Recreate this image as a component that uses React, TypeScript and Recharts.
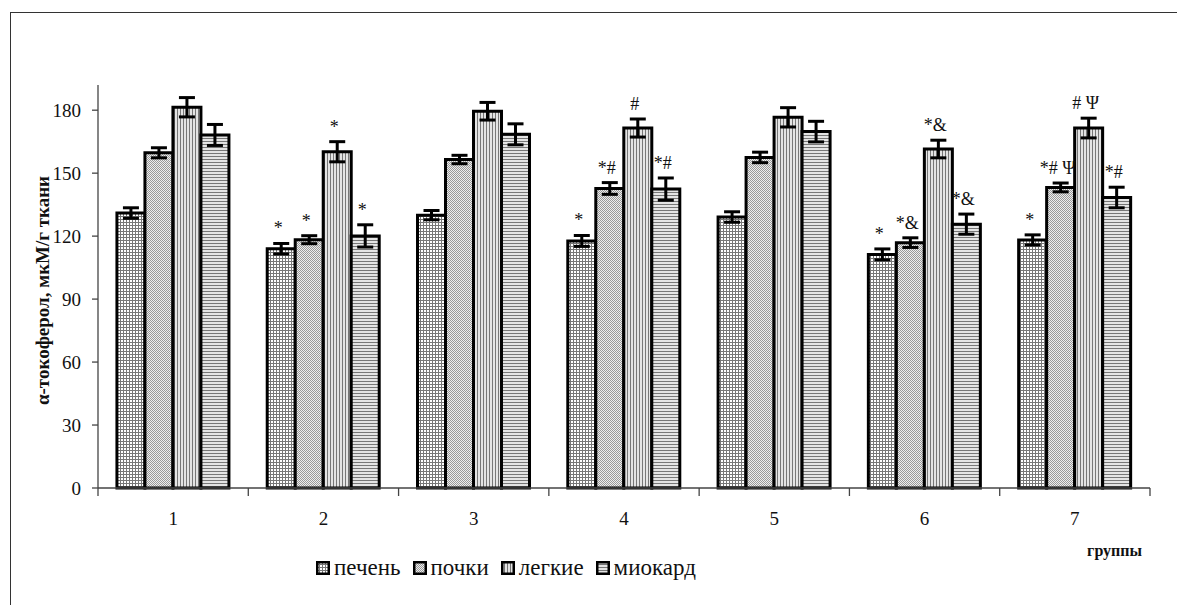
import React from "react";
import { BarChart, Bar, XAxis, YAxis, ErrorBar, LabelList, Legend, Label } from "recharts";

const groups = ["1", "2", "3", "4", "5", "6", "7"];

// α-tocopherol, mean ± error per tissue
const liver = [131, 114, 130, 117.7, 129.1, 111.3, 118.2];
const liverErr = [2.5, 2.5, 2.2, 2.6, 2.5, 2.6, 2.4];
const kidney = [159.7, 118.3, 156.5, 142.7, 157.5, 116.9, 143.2];
const kidneyErr = [2.4, 1.9, 2.0, 2.8, 2.5, 2.3, 2.1];
const lung = [181.4, 160.2, 179.5, 171.5, 176.6, 161.5, 171.5];
const lungErr = [4.6, 4.8, 4.2, 4.3, 4.6, 4.2, 4.7];
const myo = [168.2, 120.1, 168.5, 142.4, 169.8, 125.7, 138.4];
const myoErr = [5.0, 5.3, 5.0, 5.3, 4.9, 4.8, 4.9];

// significance marks above the bars
const liverMarks = ["", "*", "", "*", "", "*", "*"];
const kidneyMarks = ["", "*", "", "*#", "", "*&", "*# Ψ"];
const lungMarks = ["", "*", "", "#", "", "*&", "# Ψ"];
const myoMarks = ["", "*", "", "*#", "", "*&", "*#"];

const yTicks = [0, 30, 60, 90, 120, 150, 180];

const FONT = "Liberation Serif, Tinos, DejaVu Serif, Noto Serif, serif";

const data = groups.map((g, i) => ({
  group: g,
  liver: liver[i],
  liverErr: liverErr[i],
  liverMark: liverMarks[i],
  kidney: kidney[i],
  kidneyErr: kidneyErr[i],
  kidneyMark: kidneyMarks[i],
  lung: lung[i],
  lungErr: lungErr[i],
  lungMark: lungMarks[i],
  myo: myo[i],
  myoErr: myoErr[i],
  myoMark: myoMarks[i],
}));

const series = [
  { key: "liver", name: "печень", fill: "url(#pLiver)", values: liver, errs: liverErr },
  { key: "kidney", name: "почки", fill: "url(#pKidney)", values: kidney, errs: kidneyErr },
  { key: "lung", name: "легкие", fill: "url(#pLung)", values: lung, errs: lungErr },
  { key: "myo", name: "миокард", fill: "url(#pMyo)", values: myo, errs: myoErr },
];

function markLabel(values: number[], errs: number[]) {
  return (props: any) => {
    const { x, y, width, height, value, index } = props;
    if (!value) return null;
    const px = Number(height) / values[index];
    const top = Number(y) - errs[index] * px;
    return (
      <text
        x={Number(x) + Number(width) / 2 - 3}
        y={top - 9}
        textAnchor="middle"
        style={{ fontFamily: FONT }}
        fontSize={18}
        fill="#111"
      >
        {value}
      </text>
    );
  };
}

function GroupTick(props: any) {
  const { x, y, payload, index } = props;
  const w = Number(props.width) > 500 ? Number(props.width) : 1052;
  const bw = w / groups.length;
  return (
    <g>
      {index === 0 && (
        <line x1={x - bw / 2} x2={x - bw / 2} y1={y} y2={y + 8} stroke="#444" strokeWidth={1.3} />
      )}
      <line x1={x + bw / 2} x2={x + bw / 2} y1={y} y2={y + 8} stroke="#444" strokeWidth={1.3} />
      <text x={x} y={y + 37} textAnchor="middle" style={{ fontFamily: FONT }} fontSize={19} fill="#111">
        {payload.value}
      </text>
    </g>
  );
}

function renderLegend() {
  return (
    <div
      style={{
        height: 40,
        display: "flex",
        alignItems: "center",
        gap: 12,
        fontFamily: FONT,
        fontSize: 23,
        color: "#111",
      }}
    >
      {series.map((s) => (
        <div key={s.key} style={{ display: "flex", alignItems: "center", gap: 4 }}>
          <svg width={14} height={14}>
            <rect x={1.25} y={1.25} width={11.5} height={11.5} fill={s.fill} stroke="#000" strokeWidth={2.5} />
          </svg>
          <span>{s.name}</span>
        </div>
      ))}
    </div>
  );
}

export default function App() {
  return (
    <div style={{ position: "absolute", left: 0, top: 0, width: 1177, height: 605, overflow: "hidden", background: "#fff" }}>
      <svg width={0} height={0} style={{ position: "absolute" }}>
        <defs>
          <pattern id="pLiver" width={3} height={3} patternUnits="userSpaceOnUse">
            <rect width={3} height={3} fill="#fff" />
            <rect width={3} height={1} fill="#777" />
            <rect width={1} height={3} fill="#777" />
          </pattern>
          <pattern id="pKidney" width={2} height={2} patternUnits="userSpaceOnUse">
            <rect width={2} height={2} fill="#eee" />
            <rect width={1} height={1} fill="#999" />
            <rect x={1} y={1} width={1} height={1} fill="#999" />
          </pattern>
          <pattern id="pLung" width={3} height={3} patternUnits="userSpaceOnUse">
            <rect width={3} height={3} fill="#e4e4e4" />
            <rect width={1} height={3} fill="#777" />
          </pattern>
          <pattern id="pMyo" width={3} height={3} patternUnits="userSpaceOnUse">
            <rect width={3} height={3} fill="#e4e4e4" />
            <rect width={3} height={1} fill="#777" />
          </pattern>
        </defs>
      </svg>
      <div
        style={{
          position: "absolute",
          left: 10,
          top: 12,
          width: 1300,
          height: 800,
          borderLeft: "1.5px solid #333",
          borderTop: "1.5px solid #333",
        }}
      />
      <BarChart
        width={1177}
        height={605}
        data={data}
        margin={{ top: 85, right: 27, bottom: 17, left: 0 }}
        barCategoryGap="12.6%"
        barGap={0}
      >
        <XAxis
          dataKey="group"
          height={60}
          interval={0}
          tickSize={0}
          tickMargin={0}
          tickLine={false}
          axisLine={{ stroke: "#444", strokeWidth: 1.3 }}
          tick={<GroupTick />}
        >
          <Label
            content={(p: any) => {
              const vb = p.viewBox || { x: 98, y: 488, width: 1052 };
              return (
                <text
                  x={vb.x + vb.width - 8}
                  y={vb.y + 68}
                  textAnchor="end"
                  style={{ fontFamily: FONT }}
                  fontWeight="bold"
                  fontSize={16}
                  fill="#111"
                >
                  группы
                </text>
              );
            }}
          />
        </XAxis>
        <YAxis
          width={98}
          domain={[0, 192]}
          ticks={yTicks}
          interval={0}
          tickSize={6}
          tickMargin={11}
          axisLine={{ stroke: "#444", strokeWidth: 1.3 }}
          tickLine={{ stroke: "#444", strokeWidth: 1.3 }}
          tick={{ fontSize: 19, fill: "#111", style: { fontFamily: FONT } }}
        >
          <Label
            content={(p: any) => {
              const vb = p.viewBox || { x: 0, y: 85, width: 98, height: 403 };
              const cy = vb.y + vb.height / 2 + 4;
              return (
                <text
                  x={42}
                  y={cy}
                  transform={`rotate(-90, 42, ${cy})`}
                  textAnchor="middle"
                  dominantBaseline="central"
                  style={{ fontFamily: FONT }}
                  fontWeight="bold"
                  fontSize={19}
                  fill="#111"
                >
                  α-токоферол, мкМ/г ткани
                </text>
              );
            }}
          />
        </YAxis>
        <Legend
          verticalAlign="bottom"
          align="left"
          wrapperStyle={{ left: 316, bottom: 17, width: "auto" }}
          content={renderLegend}
        />
        {series.map((s) => (
          <Bar
            key={s.key}
            dataKey={s.key}
            name={s.name}
            fill={s.fill}
            stroke="#000"
            strokeWidth={3}
            isAnimationActive={false}
          >
            <ErrorBar dataKey={`${s.key}Err`} width={8} stroke="#000" strokeWidth={3} direction="y" />
            <LabelList dataKey={`${s.key}Mark`} content={markLabel(s.values, s.errs)} />
          </Bar>
        ))}
      </BarChart>
    </div>
  );
}
